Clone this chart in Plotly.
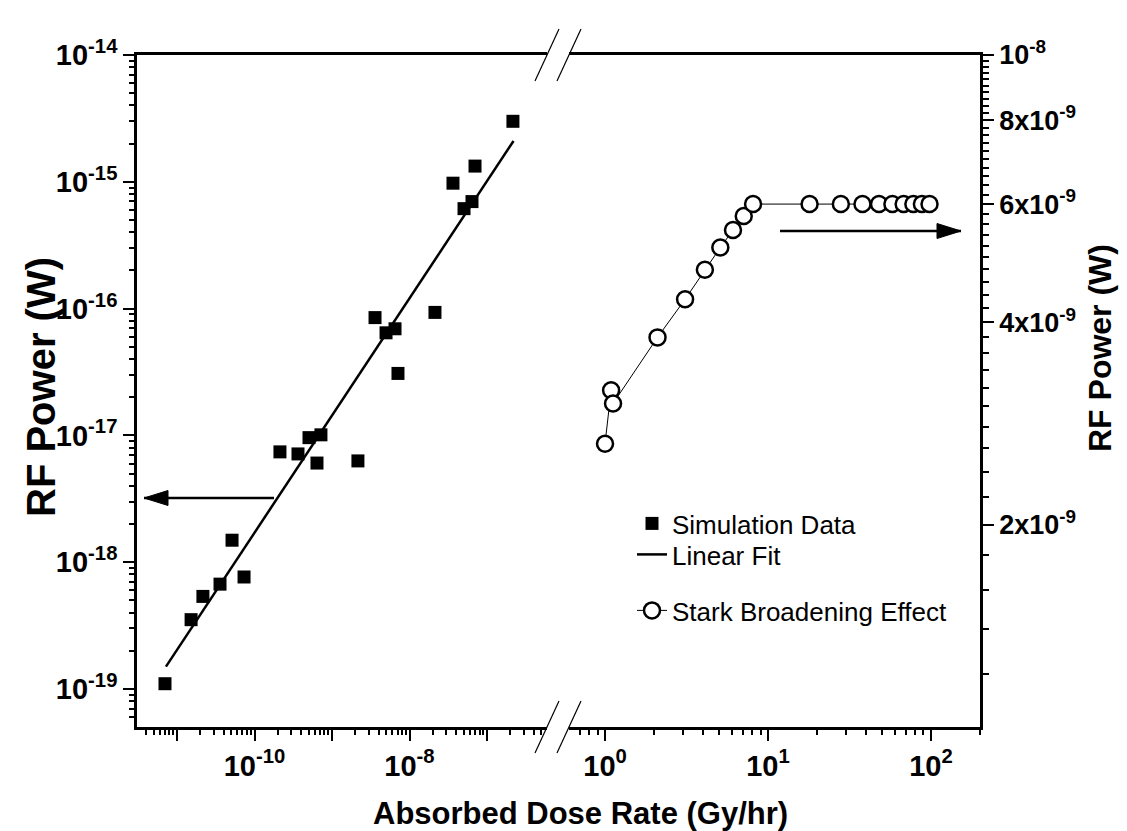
import plotly.graph_objects as go

# ---------------- data ----------------
sim_dose = [7.0e-12, 1.52e-11, 2.16e-11, 3.59e-11, 5.13e-11, 7.33e-11,
            2.13e-10, 3.64e-10, 5.05e-10, 6.4e-10, 7.2e-10, 2.16e-9,
            3.59e-9, 4.98e-9, 6.5e-9, 7.1e-9, 2.13e-8, 3.64e-8, 5.05e-8,
            6.4e-8, 7.0e-8, 2.16e-7]
sim_power = [1.10e-19, 3.52e-19, 5.37e-19, 6.71e-19, 1.49e-18, 7.64e-19,
             7.41e-18, 7.14e-18, 9.6e-18, 6.05e-18, 1.01e-17, 6.29e-18,
             8.49e-17, 6.44e-17, 6.93e-17, 3.08e-17, 9.33e-17, 9.75e-16,
             6.14e-16, 6.98e-16, 1.33e-15, 3.0e-15]

fit_dose = [7.2e-12, 2.2e-7]
fit_power = [1.5e-19, 2.1e-15]

stark_dose = [1.0, 1.09, 1.12, 2.1, 3.1, 4.1, 5.1, 6.1, 7.1, 8.1,
              18, 28, 38, 48, 58, 68, 78, 88, 98]
stark_power = [2.64e-9, 3.17e-9, 3.03e-9, 3.8e-9, 4.33e-9, 4.79e-9, 5.17e-9,
               5.49e-9, 5.76e-9, 6.0e-9,
               6.0e-9, 6.0e-9, 6.0e-9, 6.0e-9, 6.0e-9, 6.0e-9, 6.0e-9, 6.0e-9, 6.0e-9]

x1_ticks = [1e-11, 1e-10, 1e-9, 1e-8, 1e-7]
x1_labels = ["", "10<sup>-10</sup>", "", "10<sup>-8</sup>", ""]
x2_ticks = [1, 10, 100]
x2_labels = ["10<sup>0</sup>", "10<sup>1</sup>", "10<sup>2</sup>"]
y1_ticks = [1e-19, 1e-18, 1e-17, 1e-16, 1e-15, 1e-14]
y1_labels = ["10<sup>-19</sup>", "10<sup>-18</sup>", "10<sup>-17</sup>",
             "10<sup>-16</sup>", "10<sup>-15</sup>", "10<sup>-14</sup>"]
y2_ticks = [2e-9, 4e-9, 6e-9, 8e-9, 1e-8]
y2_labels = ["2x10<sup>-9</sup>", "4x10<sup>-9</sup>", "6x10<sup>-9</sup>",
             "8x10<sup>-9</sup>", "10<sup>-8</sup>"]
y2_minor = [k * 1e-10 for k in range(12, 100, 2) if k % 20 != 0]

# ---------------- geometry ----------------
W, H = 1127, 831
L, R, T, B = 129, 155, 47, 112
PW, PH = W - L - R, H - T - B
left_end_px, right_start_px = 539, 561
dom1 = [0, (left_end_px - L) / PW]
dom2 = [(right_start_px - L) / PW, 1]


def px(xp):
    return (xp - L) / PW


def py(yp):
    return (H - B - yp) / PH


FONT = "Liberation Sans, Arial, sans-serif"
tickfont = dict(family=FONT, size=29, color="black", weight="bold")
tickfont_r = dict(family=FONT, size=27, color="black", weight="bold")

fig = go.Figure()
fig.add_trace(go.Scatter(x=sim_dose, y=sim_power, mode="markers", name="Simulation Data",
                         marker=dict(symbol="square", size=13, color="black"),
                         xaxis="x", yaxis="y", legend="legend"))
fig.add_trace(go.Scatter(x=fit_dose, y=fit_power, mode="lines", name="Linear Fit",
                         line=dict(color="black", width=2.5),
                         xaxis="x", yaxis="y", legend="legend2"))
fig.add_trace(go.Scatter(x=stark_dose, y=stark_power, mode="lines+markers",
                         name="Stark Broadening Effect",
                         line=dict(color="black", width=1),
                         marker=dict(symbol="circle", size=16, color="white",
                                     line=dict(color="black", width=2.5)),
                         xaxis="x2", yaxis="y2", legend="legend3"))

axis_common = dict(showline=True, linecolor="black", linewidth=2.5, ticks="outside",
                   ticklen=11, tickwidth=2, tickcolor="black", showgrid=False,
                   zeroline=False, tickmode="array")
minor_log = dict(ticks="outside", ticklen=5, tickwidth=1.5, dtick="D1", tickcolor="black")

leg_x = px(624)
leg_font = dict(family=FONT, size=26, color="black")


def leg(top):
    return dict(x=leg_x, y=py(top), xanchor="left", yanchor="top",
                bgcolor="rgba(0,0,0,0)", font=leg_font)


fig.update_layout(
    width=W, height=H,
    margin=dict(l=L, r=R, t=T, b=B),
    paper_bgcolor="white", plot_bgcolor="white",
    xaxis=dict(type="log", range=[-11.516, -6.226], domain=dom1, anchor="y",
               tickvals=x1_ticks, ticktext=x1_labels, mirror=True,
               minor=minor_log, tickfont=tickfont, **axis_common),
    xaxis2=dict(type="log", range=[-0.221, 2.301], domain=dom2, anchor="y2",
                tickvals=x2_ticks, ticktext=x2_labels, mirror=True,
                minor=minor_log, tickfont=tickfont, **axis_common),
    yaxis=dict(type="log", range=[-19.3, -14], domain=[0, 1], anchor="x",
               tickvals=y1_ticks, ticktext=y1_labels,
               minor=minor_log, tickfont=tickfont, **axis_common),
    yaxis2=dict(type="log", range=[-9, -8], domain=[0, 1], anchor="x2", side="right",
                tickvals=y2_ticks, ticktext=y2_labels,
                minor=dict(ticks="outside", ticklen=6, tickwidth=1.5, tickmode="array",
                           tickvals=y2_minor, tickcolor="black"),
                tickfont=tickfont_r, **axis_common),
    showlegend=True,
    legend=leg(492),
    legend2=leg(523),
    legend3=leg(579),
)

title_font = dict(family=FONT, color="black", weight="bold")
fig.add_annotation(text="Absorbed Dose Rate (Gy/hr)", xref="paper", yref="paper",
                   x=px(572), y=py(805), xanchor="center", yanchor="middle",
                   showarrow=False, font=dict(size=31, **title_font))
fig.add_annotation(text="RF Power (W)", xref="paper", yref="paper",
                   x=px(33), y=py(379), xanchor="center", yanchor="middle", textangle=-90,
                   showarrow=False, font=dict(size=40, **title_font))
fig.add_annotation(text="RF Power (W)", xref="paper", yref="paper",
                   x=px(1092), y=py(340), xanchor="center", yanchor="middle", textangle=-90,
                   showarrow=False, font=dict(size=32, **title_font))

# axis-break slashes
for xa in (dom1[1], dom2[0]):
    for ya in (0, 1):
        fig.add_shape(type="line", xref="paper", yref="paper",
                      xsizemode="pixel", ysizemode="pixel", xanchor=xa, yanchor=ya,
                      x0=-12, x1=12, y0=-26, y1=26,
                      line=dict(color="black", width=1.2))


# arrows
def arrow(tip_x, tip_y, length, direction):
    fig.add_shape(type="line", xref="paper", yref="paper",
                  xsizemode="pixel", ysizemode="pixel", xanchor=px(tip_x), yanchor=py(tip_y),
                  x0=0, x1=direction * length, y0=0, y1=0,
                  line=dict(color="black", width=2.5))
    d = direction * 24
    fig.add_shape(type="path", xref="paper", yref="paper",
                  xsizemode="pixel", ysizemode="pixel", xanchor=px(tip_x), yanchor=py(tip_y),
                  path=f"M0,0 L{d},7.5 L{d},-7.5 Z", fillcolor="black",
                  line=dict(color="black", width=1))


arrow(136, 490, 130, 1)
arrow(953, 223, 181, -1)

fig.write_html("out.html")
